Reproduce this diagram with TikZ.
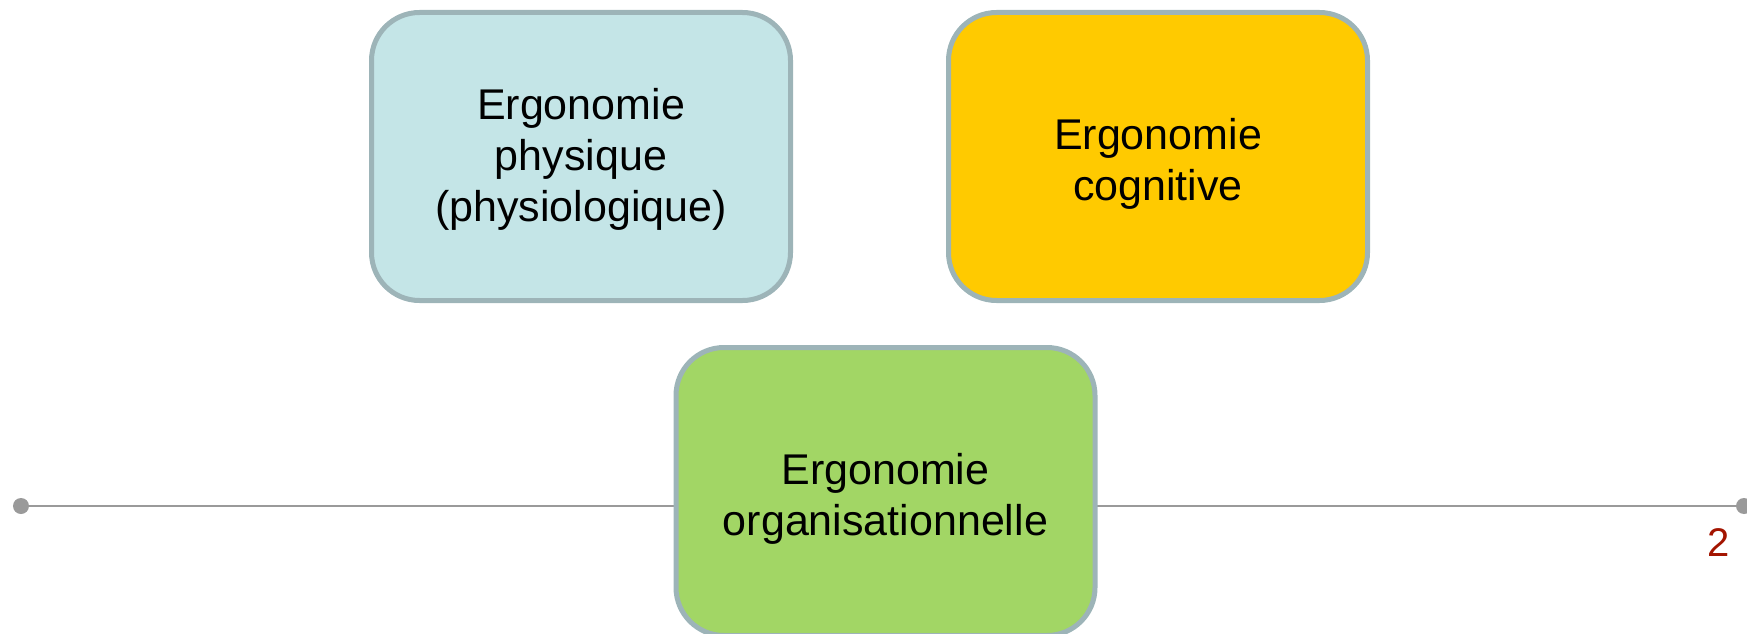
\documentclass[tikz,border=0pt]{standalone}
\usepackage{fontspec}
\setmainfont{Liberation Sans}
\definecolor{bordc}{HTML}{9DB4B8}
\definecolor{fillA}{HTML}{C4E5E7}
\definecolor{fillB}{HTML}{FFCA00}
\definecolor{fillC}{HTML}{A2D665}
\definecolor{linec}{HTML}{9A9A9A}
\definecolor{numc}{HTML}{A31400}
\begin{document}
\begin{tikzpicture}[x=1pt,y=-1pt,
  catbox/.style={draw=bordc, line width=5pt, rounded corners=48pt,
    minimum width=419pt, minimum height=288pt, inner sep=0pt,
    font=\fontsize{43}{51}\selectfont, text=black},
  enddot/.style={circle, fill=linec, inner sep=0pt, minimum size=16pt}]
\useasboundingbox (0,0) rectangle (1747,634);
\node[enddot] (dl) at (21,506) {};
\node[enddot] (dr) at (1744,506) {};
\draw[linec, line width=2.5pt] (dl.center) -- (dr.center);
\node[catbox, fill=fillA] (phys) at (581,156.5) {\raisebox{-10pt}[0pt][0pt]{\begin{tabular}{@{}c@{}}Ergonomie\\physique\\(physiologique)\end{tabular}}};
\node[catbox, fill=fillB] (cogn) at (1158,156.5) {\raisebox{-15pt}[0pt][0pt]{\begin{tabular}{@{}c@{}}Ergonomie\\cognitive\end{tabular}}};
\node[catbox, fill=fillC] (orga) at (885.5,491.5) {\raisebox{-15pt}[0pt][0pt]{\begin{tabular}{@{}c@{}}Ergonomie\\organisationnelle\end{tabular}}};
\node[text=numc, font=\fontsize{40}{48}\selectfont, inner sep=0pt] (num) at (1719,543) {2};
\end{tikzpicture}
\end{document}
